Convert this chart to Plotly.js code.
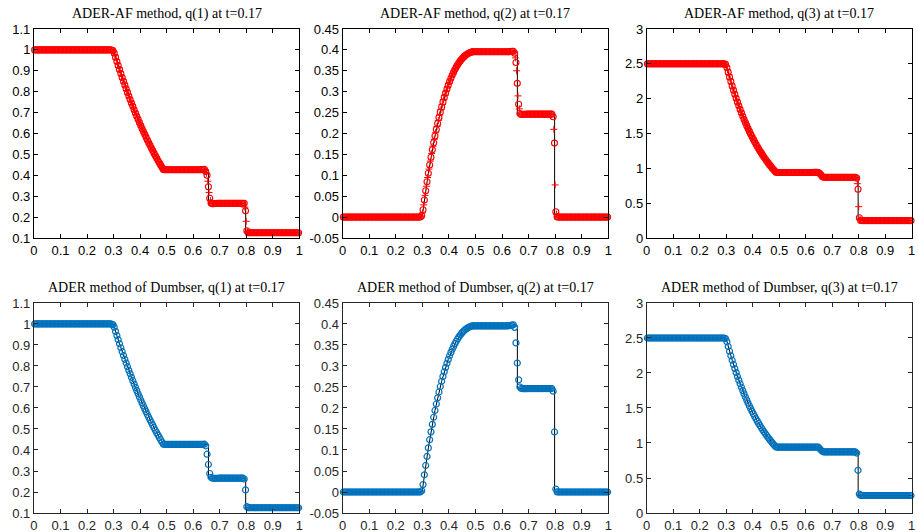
<!DOCTYPE html>
<html>
<head>
<meta charset="utf-8">
<script src="https://cdn.plot.ly/plotly-3.0.1.min.js"></script>
<style>html,body{margin:0;padding:0;background:#fff;}#chart{width:918px;height:532px;}</style>
</head>
<body>
<div id="chart"></div>
<script>
// ---------- data ----------
const cellX = [
0.0025,0.0075,0.0125,0.0175,0.0225,0.0275,0.0325,0.0375,0.0425,0.0475,
0.0525,0.0575,0.0625,0.0675,0.0725,0.0775,0.0825,0.0875,0.0925,0.0975,
0.1025,0.1075,0.1125,0.1175,0.1225,0.1275,0.1325,0.1375,0.1425,0.1475,
0.1525,0.1575,0.1625,0.1675,0.1725,0.1775,0.1825,0.1875,0.1925,0.1975,
0.2025,0.2075,0.2125,0.2175,0.2225,0.2275,0.2325,0.2375,0.2425,0.2475,
0.2525,0.2575,0.2625,0.2675,0.2725,0.2775,0.2825,0.2875,0.2925,0.2975,
0.3025,0.3075,0.3125,0.3175,0.3225,0.3275,0.3325,0.3375,0.3425,0.3475,
0.3525,0.3575,0.3625,0.3675,0.3725,0.3775,0.3825,0.3875,0.3925,0.3975,
0.4025,0.4075,0.4125,0.4175,0.4225,0.4275,0.4325,0.4375,0.4425,0.4475,
0.4525,0.4575,0.4625,0.4675,0.4725,0.4775,0.4825,0.4875,0.4925,0.4975,
0.5025,0.5075,0.5125,0.5175,0.5225,0.5275,0.5325,0.5375,0.5425,0.5475,
0.5525,0.5575,0.5625,0.5675,0.5725,0.5775,0.5825,0.5875,0.5925,0.5975,
0.6025,0.6075,0.6125,0.6175,0.6225,0.6275,0.6325,0.6375,0.6425,0.6475,
0.6525,0.6575,0.6625,0.6675,0.6725,0.6775,0.6825,0.6875,0.6925,0.6975,
0.7025,0.7075,0.7125,0.7175,0.7225,0.7275,0.7325,0.7375,0.7425,0.7475,
0.7525,0.7575,0.7625,0.7675,0.7725,0.7775,0.7825,0.7875,0.7925,0.7975,
0.8025,0.8075,0.8125,0.8175,0.8225,0.8275,0.8325,0.8375,0.8425,0.8475,
0.8525,0.8575,0.8625,0.8675,0.8725,0.8775,0.8825,0.8875,0.8925,0.8975,
0.9025,0.9075,0.9125,0.9175,0.9225,0.9275,0.9325,0.9375,0.9425,0.9475,
0.9525,0.9575,0.9625,0.9675,0.9725,0.9775,0.9825,0.9875,0.9925,0.9975];

// ADER-AF cell averages
const rhoAF = [
1,1,1,1,1,1,1,1,1,1,
1,1,1,1,1,1,1,1,1,1,
1,1,1,1,1,1,1,1,1,1,
1,1,1,1,1,1,1,1,1,1,
1,1,1,1,1,1,1,1,1,1,
1,1,1,1,1,1,1,1,0.9995,0.997,
0.9849,0.9647,0.9447,0.9251,0.9058,0.8868,0.8681,0.8498,0.8318,0.8140,
0.7966,0.7795,0.7627,0.7461,0.7299,0.7139,0.6982,0.6828,0.6677,0.6529,
0.6382,0.6239,0.6099,0.5960,0.5825,0.5691,0.5561,0.5432,0.5306,0.5183,
0.5061,0.4943,0.4826,0.4711,0.4599,0.4489,0.4381,0.4275,0.4265,0.4263,
0.4263,0.4263,0.4263,0.4263,0.4263,0.4263,0.4263,0.4263,0.4263,0.4263,
0.4263,0.4263,0.4263,0.4263,0.4263,0.4263,0.4263,0.4263,0.4263,0.4263,
0.4263,0.4263,0.4263,0.4263,0.4265,0.4268,0.4272,0.4278,0.4283,0.4180,
0.4000,0.3450,0.2900,0.2680,0.2640,0.2645,0.2650,0.2653,0.2655,0.2656,
0.2656,0.2656,0.2656,0.2656,0.2656,0.2656,0.2656,0.2656,0.2656,0.2656,
0.2656,0.2656,0.2656,0.2656,0.2656,0.2656,0.2656,0.2656,0.2660,0.2300,
0.1350,0.1255,0.125,0.125,0.125,0.125,0.125,0.125,0.125,0.125,
0.125,0.125,0.125,0.125,0.125,0.125,0.125,0.125,0.125,0.125,
0.125,0.125,0.125,0.125,0.125,0.125,0.125,0.125,0.125,0.125,
0.125,0.125,0.125,0.125,0.125,0.125,0.125,0.125,0.125,0.125];

const momAF = [
0,0,0,0,0,0,0,0,0,0,
0,0,0,0,0,0,0,0,0,0,
0,0,0,0,0,0,0,0,0,0,
0,0,0,0,0,0,0,0,0,0,
0,0,0,0,0,0,0,0,0,0,
0,0,0,0,0,0,0,0,0.0004,0.003,
0.0176,0.0409,0.0632,0.0846,0.1050,0.1245,0.1432,0.1610,0.1780,0.1941,
0.2095,0.2241,0.2380,0.2511,0.2635,0.2752,0.2863,0.2967,0.3065,0.3157,
0.3243,0.3323,0.3398,0.3466,0.3530,0.3589,0.3643,0.3692,0.3737,0.3777,
0.3812,0.3844,0.3871,0.3895,0.3915,0.3931,0.3944,0.3953,0.3954,0.3954,
0.3954,0.3954,0.3954,0.3954,0.3954,0.3954,0.3954,0.3954,0.3954,0.3954,
0.3954,0.3954,0.3954,0.3954,0.3954,0.3954,0.3954,0.3954,0.3954,0.3954,
0.3954,0.3954,0.3954,0.3954,0.3955,0.3957,0.3960,0.3964,0.3968,0.3920,
0.3700,0.3200,0.2700,0.2480,0.2455,0.2458,0.2460,0.2462,0.2463,0.2463,
0.2463,0.2463,0.2463,0.2463,0.2463,0.2463,0.2463,0.2463,0.2463,0.2463,
0.2463,0.2463,0.2463,0.2463,0.2463,0.2463,0.2463,0.2463,0.2400,0.1770,
0.0130,0.0005,0,0,0,0,0,0,0,0,
0,0,0,0,0,0,0,0,0,0,
0,0,0,0,0,0,0,0,0,0,
0,0,0,0,0,0,0,0,0,0];

const eneAF = [
2.5,2.5,2.5,2.5,2.5,2.5,2.5,2.5,2.5,2.5,
2.5,2.5,2.5,2.5,2.5,2.5,2.5,2.5,2.5,2.5,
2.5,2.5,2.5,2.5,2.5,2.5,2.5,2.5,2.5,2.5,
2.5,2.5,2.5,2.5,2.5,2.5,2.5,2.5,2.5,2.5,
2.5,2.5,2.5,2.5,2.5,2.5,2.5,2.5,2.5,2.5,
2.5,2.5,2.5,2.5,2.5,2.5,2.5,2.5,2.499,2.492,
2.4476,2.3781,2.3106,2.2455,2.1826,2.1217,2.0627,2.0058,1.9507,1.8974,
1.8459,1.7962,1.7480,1.7014,1.6564,1.6129,1.5707,1.5300,1.4906,1.4526,
1.4157,1.3801,1.3457,1.3123,1.2800,1.2489,1.2186,1.1894,1.1612,1.1338,
1.1072,1.0816,1.0568,1.0326,1.0093,0.9867,0.9648,0.9435,0.9415,0.9412,
0.9412,0.9412,0.9412,0.9412,0.9412,0.9412,0.9412,0.9412,0.9412,0.9412,
0.9412,0.9412,0.9412,0.9412,0.9412,0.9412,0.9412,0.9412,0.9412,0.9412,
0.9412,0.9412,0.9412,0.9412,0.9412,0.9413,0.9414,0.9416,0.9418,0.9395,
0.9294,0.9062,0.8830,0.8728,0.8716,0.8718,0.8719,0.8720,0.8720,0.8720,
0.8720,0.8720,0.8720,0.8720,0.8720,0.8720,0.8720,0.8720,0.8720,0.8720,
0.8720,0.8720,0.8720,0.8720,0.8720,0.8720,0.8720,0.8720,0.8600,0.7000,
0.2900,0.2520,0.25,0.25,0.25,0.25,0.25,0.25,0.25,0.25,
0.25,0.25,0.25,0.25,0.25,0.25,0.25,0.25,0.25,0.25,
0.25,0.25,0.25,0.25,0.25,0.25,0.25,0.25,0.25,0.25,
0.25,0.25,0.25,0.25,0.25,0.25,0.25,0.25,0.25,0.25];

// ADER-AF point values (interfaces)
const ptX = [
0.300,0.305,0.310,0.315,0.320,0.325,0.330,0.335,0.340,0.345,
0.350,0.355,0.360,0.365,0.370,0.375,0.380,0.385,0.390,0.395,
0.400,0.405,0.410,0.415,0.420,0.425,0.430,0.435,0.440,0.445,
0.450,0.455,0.460,0.465,0.470,0.475,0.480,0.485,0.490,
0.650,0.655,0.660,0.665,0.795,0.800,0.805];
const rhoPt = [
0.9910,0.9748,0.9547,0.9349,0.9154,0.8963,0.8775,0.8590,0.8408,0.8229,
0.8053,0.7880,0.7711,0.7544,0.7380,0.7219,0.7061,0.6905,0.6753,0.6603,
0.6456,0.6311,0.6169,0.6029,0.5892,0.5758,0.5626,0.5496,0.5369,0.5245,
0.5122,0.5002,0.4884,0.4768,0.4655,0.4544,0.4435,0.4328,0.4269,
0.4100,0.3720,0.3180,0.2790,0.2480,0.1800,0.1300];
const momPt = [
0.0100,0.0293,0.0520,0.0739,0.0948,0.1148,0.1339,0.1521,0.1695,0.1860,
0.2018,0.2168,0.2310,0.2445,0.2573,0.2694,0.2808,0.2915,0.3016,0.3111,
0.3200,0.3283,0.3360,0.3432,0.3498,0.3560,0.3616,0.3667,0.3714,0.3757,
0.3794,0.3828,0.3858,0.3883,0.3905,0.3923,0.3937,0.3948,0.3953,
0.3810,0.3500,0.2900,0.2590,0.2100,0.0770,0.0070];
const enePt = [
2.4700,2.4129,2.3444,2.2781,2.2141,2.1522,2.0922,2.0343,1.9783,1.9241,
1.8717,1.8211,1.7721,1.7247,1.6789,1.6347,1.5918,1.5504,1.5103,1.4716,
1.4342,1.3979,1.3629,1.3290,1.2962,1.2645,1.2338,1.2040,1.1753,1.1475,
1.1205,1.0944,1.0692,1.0447,1.0210,0.9980,0.9758,0.9542,0.9423,
0.9350,0.9180,0.8950,0.8780,0.7800,0.4500,0.2700];

// ADER method of Dumbser cell averages
const rhoDum = [
1,1,1,1,1,1,1,1,1,1,
1,1,1,1,1,1,1,1,1,1,
1,1,1,1,1,1,1,1,1,1,
1,1,1,1,1,1,1,1,1,1,
1,1,1,1,1,1,1,1,1,1,
1,1,1,1,1,1,1,1,0.9995,0.997,
0.9849,0.9647,0.9447,0.9251,0.9058,0.8868,0.8681,0.8498,0.8318,0.8140,
0.7966,0.7795,0.7627,0.7461,0.7299,0.7139,0.6982,0.6828,0.6677,0.6529,
0.6382,0.6239,0.6099,0.5960,0.5825,0.5691,0.5561,0.5432,0.5306,0.5183,
0.5061,0.4943,0.4826,0.4711,0.4599,0.4489,0.4381,0.4275,0.4265,0.4263,
0.4263,0.4263,0.4263,0.4263,0.4263,0.4263,0.4263,0.4263,0.4263,0.4263,
0.4263,0.4263,0.4263,0.4263,0.4263,0.4263,0.4263,0.4263,0.4263,0.4263,
0.4263,0.4263,0.4263,0.4263,0.4264,0.4266,0.4269,0.4272,0.4275,0.4200,
0.3800,0.3310,0.2880,0.2700,0.2655,0.2652,0.2652,0.2654,0.2655,0.2656,
0.2656,0.2656,0.2656,0.2656,0.2656,0.2656,0.2656,0.2656,0.2656,0.2656,
0.2656,0.2656,0.2656,0.2656,0.2656,0.2656,0.2656,0.2656,0.2620,0.2100,
0.1300,0.1252,0.125,0.125,0.125,0.125,0.125,0.125,0.125,0.125,
0.125,0.125,0.125,0.125,0.125,0.125,0.125,0.125,0.125,0.125,
0.125,0.125,0.125,0.125,0.125,0.125,0.125,0.125,0.125,0.125,
0.125,0.125,0.125,0.125,0.125,0.125,0.125,0.125,0.125,0.125];

const momDum = [
0,0,0,0,0,0,0,0,0,0,
0,0,0,0,0,0,0,0,0,0,
0,0,0,0,0,0,0,0,0,0,
0,0,0,0,0,0,0,0,0,0,
0,0,0,0,0,0,0,0,0,0,
0,0,0,0,0,0,0,0,0.0004,0.003,
0.0176,0.0409,0.0632,0.0846,0.1050,0.1245,0.1432,0.1610,0.1780,0.1941,
0.2095,0.2241,0.2380,0.2511,0.2635,0.2752,0.2863,0.2967,0.3065,0.3157,
0.3243,0.3323,0.3398,0.3466,0.3530,0.3589,0.3643,0.3692,0.3737,0.3777,
0.3812,0.3844,0.3871,0.3895,0.3915,0.3931,0.3944,0.3953,0.3954,0.3954,
0.3954,0.3954,0.3954,0.3954,0.3954,0.3954,0.3954,0.3954,0.3954,0.3954,
0.3954,0.3954,0.3954,0.3954,0.3954,0.3954,0.3954,0.3954,0.3954,0.3954,
0.3954,0.3954,0.3954,0.3954,0.3956,0.3960,0.3966,0.3972,0.3980,0.3920,
0.3550,0.3070,0.2670,0.2500,0.2465,0.2460,0.2460,0.2461,0.2462,0.2463,
0.2463,0.2463,0.2463,0.2463,0.2463,0.2463,0.2463,0.2463,0.2463,0.2463,
0.2463,0.2463,0.2463,0.2463,0.2463,0.2463,0.2463,0.2463,0.2400,0.1430,
0.0070,0.0003,0,0,0,0,0,0,0,0,
0,0,0,0,0,0,0,0,0,0,
0,0,0,0,0,0,0,0,0,0,
0,0,0,0,0,0,0,0,0,0];

const eneDum = [
2.5,2.5,2.5,2.5,2.5,2.5,2.5,2.5,2.5,2.5,
2.5,2.5,2.5,2.5,2.5,2.5,2.5,2.5,2.5,2.5,
2.5,2.5,2.5,2.5,2.5,2.5,2.5,2.5,2.5,2.5,
2.5,2.5,2.5,2.5,2.5,2.5,2.5,2.5,2.5,2.5,
2.5,2.5,2.5,2.5,2.5,2.5,2.5,2.5,2.5,2.5,
2.5,2.5,2.5,2.5,2.5,2.5,2.5,2.5,2.499,2.492,
2.4476,2.3781,2.3106,2.2455,2.1826,2.1217,2.0627,2.0058,1.9507,1.8974,
1.8459,1.7962,1.7480,1.7014,1.6564,1.6129,1.5707,1.5300,1.4906,1.4526,
1.4157,1.3801,1.3457,1.3123,1.2800,1.2489,1.2186,1.1894,1.1612,1.1338,
1.1072,1.0816,1.0568,1.0326,1.0093,0.9867,0.9648,0.9435,0.9415,0.9412,
0.9412,0.9412,0.9412,0.9412,0.9412,0.9412,0.9412,0.9412,0.9412,0.9412,
0.9412,0.9412,0.9412,0.9412,0.9412,0.9412,0.9412,0.9412,0.9412,0.9412,
0.9412,0.9412,0.9412,0.9412,0.9412,0.9413,0.9415,0.9418,0.9421,0.9396,
0.9224,0.9002,0.8816,0.8737,0.8721,0.8719,0.8719,0.8720,0.8720,0.8720,
0.8720,0.8720,0.8720,0.8720,0.8720,0.8720,0.8720,0.8720,0.8720,0.8720,
0.8720,0.8720,0.8720,0.8720,0.8720,0.8720,0.8720,0.8720,0.8560,0.6100,
0.2700,0.2510,0.25,0.25,0.25,0.25,0.25,0.25,0.25,0.25,
0.25,0.25,0.25,0.25,0.25,0.25,0.25,0.25,0.25,0.25,
0.25,0.25,0.25,0.25,0.25,0.25,0.25,0.25,0.25,0.25,
0.25,0.25,0.25,0.25,0.25,0.25,0.25,0.25,0.25,0.25];

// exact (reference) solution
const exactX   = [0, 0.299, 0.3225, 0.3475, 0.3725, 0.3975, 0.4225, 0.4475, 0.4725, 0.488, 0.6577, 0.6577, 0.798, 0.798, 1];
const exactRho = [1, 1, 0.9058, 0.8140, 0.7299, 0.6529, 0.5825, 0.5183, 0.4599, 0.4263, 0.4263, 0.2656, 0.2656, 0.125, 0.125];
const exactMom = [0, 0, 0.1050, 0.1941, 0.2635, 0.3157, 0.3530, 0.3777, 0.3915, 0.3954, 0.3954, 0.2463, 0.2463, 0, 0];
const exactEne = [2.5, 2.5, 2.1826, 1.8974, 1.6564, 1.4526, 1.2800, 1.1338, 1.0093, 0.9412, 0.9412, 0.8720, 0.8720, 0.25, 0.25];

// titles and ticks
const titlesTop = ["ADER-AF method, q(1) at t=0.17", "ADER-AF method, q(2) at t=0.17", "ADER-AF method, q(3) at t=0.17"];
const titlesBot = ["ADER method of Dumbser, q(1) at t=0.17", "ADER method of Dumbser, q(2) at t=0.17", "ADER method of Dumbser, q(3) at t=0.17"];
const xTickVals = [0,0.1,0.2,0.3,0.4,0.5,0.6,0.7,0.8,0.9,1];
const xTickText = ["0","0.1","0.2","0.3","0.4","0.5","0.6","0.7","0.8","0.9","1"];
const q1TickVals = [0.1,0.2,0.3,0.4,0.5,0.6,0.7,0.8,0.9,1,1.1];
const q1TickText = ["0.1","0.2","0.3","0.4","0.5","0.6","0.7","0.8","0.9","1","1.1"];
const q2TickVals = [-0.05,0,0.05,0.1,0.15,0.2,0.25,0.3,0.35,0.4,0.45];
const q2TickText = ["-0.05","0","0.05","0.1","0.15","0.2","0.25","0.3","0.35","0.4","0.45"];
const q3TickVals = [0,0.5,1,1.5,2,2.5,3];
const q3TickText = ["0","0.5","1","1.5","2","2.5","3"];

// ---------- build ----------
const RED = "#ff0000", BLUE = "#0072bd";
const colDom = [[0.0370,0.3260],[0.3733,0.6626],[0.7045,0.9931]];
const rowDom = [[0.5526,0.9455],[0.0357,0.4305]];
const yRanges = [[0.1,1.1],[-0.05,0.45],[0,3]];
const yTicks = [[q1TickVals,q1TickText],[q2TickVals,q2TickText],[q3TickVals,q3TickText]];
const exactY = [exactRho, exactMom, exactEne];
const afY = [rhoAF, momAF, eneAF];
const afPt = [rhoPt, momPt, enePt];
const dumY = [rhoDum, momDum, eneDum];

const traces = [];
const layout = {
  width: 918, height: 532,
  margin: {l:0, r:0, t:0, b:0},
  paper_bgcolor: "#fff", plot_bgcolor: "#fff",
  showlegend: false,
  annotations: []
};

for (let row = 0; row < 2; row++) {
  for (let col = 0; col < 3; col++) {
    const n = row*3 + col + 1;
    const xa = n === 1 ? "x" : "x" + n;
    const ya = n === 1 ? "y" : "y" + n;
    const axColor = row === 0 ? "#000" : "#262626";
    traces.push({x: exactX, y: exactY[col], xaxis: xa, yaxis: ya, type: "scatter", mode: "lines",
      line: {color: "#000", width: 1}, hoverinfo: "skip"});
    if (row === 0) {
      traces.push({x: cellX, y: afY[col], xaxis: xa, yaxis: ya, type: "scatter", mode: "markers", cliponaxis: false,
        marker: {symbol: "circle-open", size: 6, color: RED, line: {color: RED, width: 1.1}}});
      traces.push({x: ptX, y: afPt[col], xaxis: xa, yaxis: ya, type: "scatter", mode: "markers", cliponaxis: false,
        marker: {symbol: "cross-thin-open", size: 5, color: RED, line: {color: RED, width: 1}}});
    } else {
      traces.push({x: cellX, y: dumY[col], xaxis: xa, yaxis: ya, type: "scatter", mode: "markers", cliponaxis: false,
        marker: {symbol: "circle-open", size: 6, color: BLUE, line: {color: BLUE, width: 1.2}}});
    }
    const axBase = {
      showline: true, mirror: "ticks", linecolor: axColor, linewidth: 1,
      ticks: "inside", ticklen: 4, tickcolor: axColor, tickwidth: 1,
      showgrid: false, zeroline: false, fixedrange: true,
      tickfont: {family: "Liberation Sans, Arial, sans-serif", size: 13, color: row === 0 ? "#000" : "#262626"},
      tickmode: "array"
    };
    layout["xaxis" + (n === 1 ? "" : n)] = Object.assign({}, axBase, {
      domain: colDom[col], range: [0,1], anchor: ya, tickvals: xTickVals, ticktext: xTickText
    });
    layout["yaxis" + (n === 1 ? "" : n)] = Object.assign({}, axBase, {
      domain: rowDom[row], range: yRanges[col], anchor: xa, tickvals: yTicks[col][0], ticktext: yTicks[col][1]
    });
    layout.annotations.push({
      text: row === 0 ? titlesTop[col] : titlesBot[col],
      xref: "paper", yref: "paper", x: (colDom[col][0]+colDom[col][1])/2,
      y: row === 0 ? 0.9737 : 0.4586, xanchor: "center", yanchor: "middle", showarrow: false,
      font: {family: "Liberation Serif, Times New Roman, serif", size: 14, color: "#000"}
    });
  }
}

Plotly.newPlot("chart", traces, layout, {displayModeBar: false, staticPlot: true});
</script>
</body>
</html>
